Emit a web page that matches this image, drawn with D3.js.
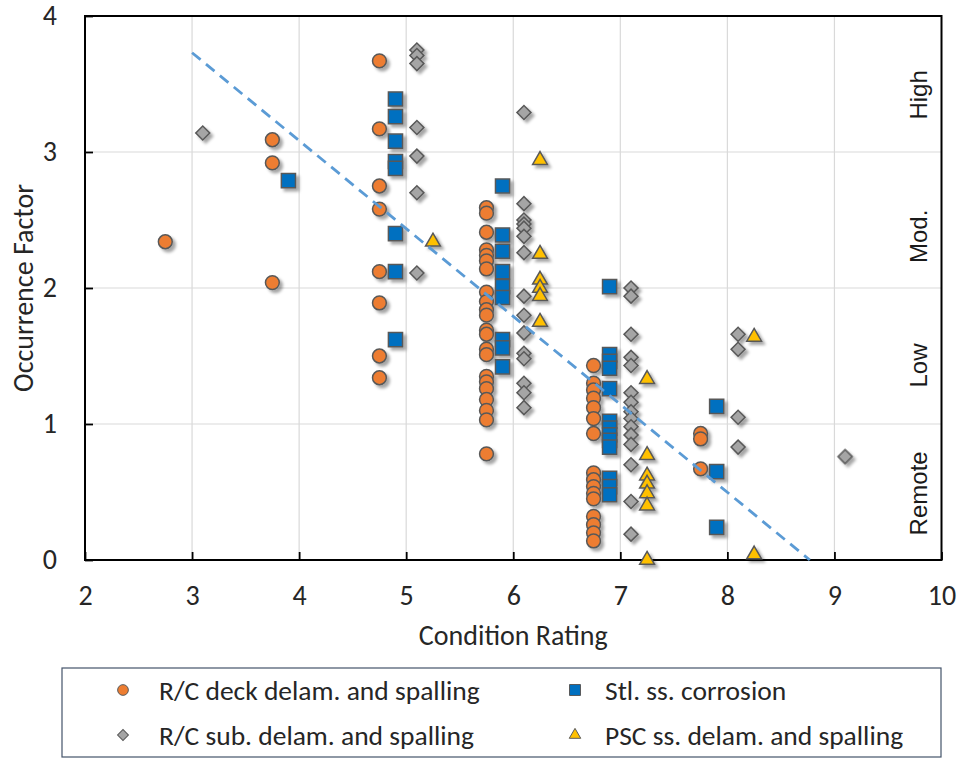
<!DOCTYPE html>
<html>
<head>
<meta charset="utf-8">
<script src="https://cdn.jsdelivr.net/npm/d3@7"></script>
<style>
  body { margin: 0; background: #fff; }
  svg { display: block; }
  .lbl { font-family: Carlito, Calibri, Lato, sans-serif; fill: #262626; }
</style>
</head>
<body>
<script>
// axis ticks
var xTicks = [2, 3, 4, 5, 6, 7, 8, 9, 10];
var yTicks = [0, 1, 2, 3, 4];

// R/C deck delam. and spalling  [condition rating, occurrence factor]
var deck = [
  [2.75, 2.34], [3.75, 3.09], [3.75, 2.92], [3.75, 2.04],
  [4.75, 3.67], [4.75, 3.17], [4.75, 2.75], [4.75, 2.58], [4.75, 2.12], [4.75, 1.89], [4.75, 1.50], [4.75, 1.34],
  [5.75, 2.59], [5.75, 2.55], [5.75, 2.41], [5.75, 2.28], [5.75, 2.24], [5.75, 2.20], [5.75, 2.14], [5.75, 1.97],
  [5.75, 1.90], [5.75, 1.84], [5.75, 1.80], [5.75, 1.69], [5.75, 1.66], [5.75, 1.55], [5.75, 1.51], [5.75, 1.35],
  [5.75, 1.31], [5.75, 1.26], [5.75, 1.18], [5.75, 1.10], [5.75, 1.03], [5.75, 0.78],
  [6.75, 1.43], [6.75, 1.30], [6.75, 1.25], [6.75, 1.19], [6.75, 1.12], [6.75, 1.04], [6.75, 0.93], [6.75, 0.64],
  [6.75, 0.59], [6.75, 0.54], [6.75, 0.49], [6.75, 0.45], [6.75, 0.32], [6.75, 0.26], [6.75, 0.20], [6.75, 0.14],
  [7.75, 0.93], [7.75, 0.89], [7.75, 0.67]
];

// Stl. ss. corrosion
var steel = [
  [3.9, 2.79],
  [4.9, 3.39], [4.9, 3.26], [4.9, 3.08], [4.9, 2.93], [4.9, 2.88], [4.9, 2.40], [4.9, 2.12], [4.9, 1.62],
  [5.9, 2.75], [5.9, 2.39], [5.9, 2.27], [5.9, 2.12], [5.9, 2.01], [5.9, 1.93], [5.9, 1.62], [5.9, 1.56], [5.9, 1.42],
  [6.9, 2.01], [6.9, 1.51], [6.9, 1.46], [6.9, 1.41], [6.9, 1.26], [6.9, 1.02], [6.9, 0.97], [6.9, 0.92],
  [6.9, 0.88], [6.9, 0.83], [6.9, 0.60], [6.9, 0.54], [6.9, 0.48],
  [7.9, 1.13], [7.9, 0.65], [7.9, 0.24]
];

// R/C sub. delam. and spalling
var sub = [
  [3.1, 3.14],
  [5.1, 3.75], [5.1, 3.71], [5.1, 3.65], [5.1, 3.18], [5.1, 2.97], [5.1, 2.70], [5.1, 2.11],
  [6.1, 3.29], [6.1, 2.62], [6.1, 2.50], [6.1, 2.47], [6.1, 2.44], [6.1, 2.38], [6.1, 2.26], [6.1, 1.94],
  [6.1, 1.80], [6.1, 1.67], [6.1, 1.52], [6.1, 1.48], [6.1, 1.30], [6.1, 1.23], [6.1, 1.12],
  [7.1, 2.00], [7.1, 1.94], [7.1, 1.66], [7.1, 1.49], [7.1, 1.43], [7.1, 1.23], [7.1, 1.16], [7.1, 1.09],
  [7.1, 1.04], [7.1, 0.98], [7.1, 0.92], [7.1, 0.85], [7.1, 0.70], [7.1, 0.43], [7.1, 0.19],
  [8.1, 1.66], [8.1, 1.55], [8.1, 1.05], [8.1, 0.83],
  [9.1, 0.76]
];

// PSC ss. delam. and spalling
var psc = [
  [5.25, 2.34],
  [6.25, 2.94], [6.25, 2.25], [6.25, 2.06], [6.25, 2.00], [6.25, 1.94], [6.25, 1.75],
  [7.25, 1.33], [7.25, 0.77], [7.25, 0.62], [7.25, 0.56], [7.25, 0.49], [7.25, 0.40], [7.25, 0.00],
  [8.25, 1.64], [8.25, 0.04]
];

// linear trend line end points
var trend = [[3, 3.73], [8.77, 0]];

// occurrence bands on the right
var bands = ["High", "Mod.", "Low", "Remote"];
var bandY = [3.42, 2.38, 1.43, 0.49];

var width = 961,
    height = 759;

var svg = d3.select("body").append("svg")
    .attr("width", width)
    .attr("height", height);

// drop shadow like the excel markers
var defs = svg.append("defs");
var f = defs.append("filter").attr("id", "shadow")
    .attr("x", "-50%").attr("y", "-50%").attr("width", "200%").attr("height", "200%");
f.append("feDropShadow")
    .attr("dx", 3).attr("dy", 3).attr("stdDeviation", 1.8)
    .attr("flood-color", "#000").attr("flood-opacity", 0.35);

var x = d3.scaleLinear().domain([2, 10]).range([85, 941.5]);
var y = d3.scaleLinear().domain([0, 4]).range([560, 16]);

// gridlines
svg.append("g").selectAll("line")
    .data(xTicks.slice(1, -1)).enter().append("line")
    .attr("x1", d => x(d)).attr("x2", d => x(d))
    .attr("y1", y(0)).attr("y2", y(4))
    .attr("stroke", "#d9d9d9").attr("stroke-width", 1.2);
svg.append("g").selectAll("line")
    .data(yTicks.slice(1, -1)).enter().append("line")
    .attr("x1", x(2)).attr("x2", x(10))
    .attr("y1", d => y(d)).attr("y2", d => y(d))
    .attr("stroke", "#d9d9d9").attr("stroke-width", 1.2);

// axes with inward ticks
var xAxis = svg.append("g").attr("transform", "translate(0," + y(0) + ")")
    .call(d3.axisBottom(x).tickValues(xTicks).tickFormat(d3.format("d"))
        .tickSizeInner(-8).tickSizeOuter(0).tickPadding(25));
var yAxis = svg.append("g").attr("transform", "translate(" + x(2) + ",0)")
    .call(d3.axisLeft(y).tickValues(yTicks).tickFormat(d3.format("d"))
        .tickSizeInner(-8).tickSizeOuter(0).tickPadding(28));

[xAxis, yAxis].forEach(function(a){
    a.attr("font-size", null).attr("font-family", null);
    a.select(".domain").remove();
    a.selectAll(".tick line").attr("stroke", "#000").attr("stroke-width", 1.8);
    a.selectAll(".tick text").attr("class", "lbl").style("font-size", "28px");
});

// plot frame
svg.append("rect")
    .attr("x", x(2)).attr("y", y(4))
    .attr("width", x(10) - x(2)).attr("height", y(0) - y(4))
    .attr("fill", "none").attr("stroke", "#000").attr("stroke-width", 2);

// axis titles
svg.append("text").attr("class", "lbl")
    .attr("x", (x(2) + x(10)) / 2).attr("y", 645)
    .attr("text-anchor", "middle").style("font-size", "28px")
    .text("Condition Rating");
svg.append("text").attr("class", "lbl")
    .attr("transform", "translate(33," + ((y(0) + y(4)) / 2) + ") rotate(-90)")
    .attr("text-anchor", "middle").style("font-size", "28px")
    .text("Occurrence Factor");

// band labels
svg.append("g").selectAll("text")
    .data(bands).enter().append("text")
    .attr("transform", (d, i) => "translate(927," + y(bandY[i]) + ") rotate(-90)")
    .attr("text-anchor", "middle")
    .style("font-family", "'Liberation Sans', Arial, sans-serif")
    .style("font-size", "24px").attr("fill", "#1a1a1a")
    .text(d => d);

// series
var series = [
    {data: deck, sym: d3.symbolCircle, size: 150, fill: "#ED7D31", rot: 0},
    {data: steel, sym: d3.symbolSquare, size: 200, fill: "#0070C0", rot: 0},
    {data: sub, sym: d3.symbolSquare, size: 98, fill: "#A5A5A5", rot: 45},
    {data: psc, sym: d3.symbolTriangle, size: 95, fill: "#FFC000", rot: 0}
];

series.forEach(function(s){
    var sym = d3.symbol().type(s.sym).size(s.size);
    svg.append("g").attr("filter", "url(#shadow)")
        .selectAll("path")
        .data(s.data).enter().append("path")
        .attr("d", sym)
        .attr("transform", d => "translate(" + x(d[0]) + "," + y(d[1]) + ") rotate(" + s.rot + ")")
        .attr("fill", s.fill)
        .attr("stroke", "#595959")
        .attr("stroke-width", 1.5);
});

// trend line
svg.append("line")
    .attr("x1", x(trend[0][0])).attr("y1", y(trend[0][1]))
    .attr("x2", x(trend[1][0])).attr("y2", y(trend[1][1]))
    .attr("stroke", "#5B9BD5").attr("stroke-width", 2.8)
    .attr("stroke-dasharray", "11,7");

// legend
var legendItems = [
    {name: "R/C deck delam. and spalling", s: series[0], col: 0, row: 0},
    {name: "Stl. ss. corrosion", s: series[1], col: 1, row: 0},
    {name: "R/C sub. delam. and spalling", s: series[2], col: 0, row: 1},
    {name: "PSC ss. delam. and spalling", s: series[3], col: 1, row: 1}
];

svg.append("rect")
    .attr("x", 62).attr("y", 668).attr("width", 879).attr("height", 89)
    .attr("fill", "#fff").attr("stroke", "#44546A").attr("stroke-width", 1.2);

var lg = svg.append("g").selectAll("g")
    .data(legendItems).enter().append("g")
    .attr("transform", d => "translate(" + (d.col ? 575 : 123) + "," + (d.row ? 735 : 690) + ")");

lg.append("path")
    .attr("d", d => d3.symbol().type(d.s.sym).size(d.s.size * 0.6)())
    .attr("transform", d => "rotate(" + d.s.rot + ")")
    .attr("fill", d => d.s.fill)
    .attr("stroke", "#595959").attr("stroke-width", 1);

lg.append("text").attr("class", "lbl")
    .attr("x", d => d.col ? 30 : 36)
    .attr("dy", "0.35em")
    .style("font-size", "27.5px")
    .text(d => d.name);
</script>
</body>
</html>
